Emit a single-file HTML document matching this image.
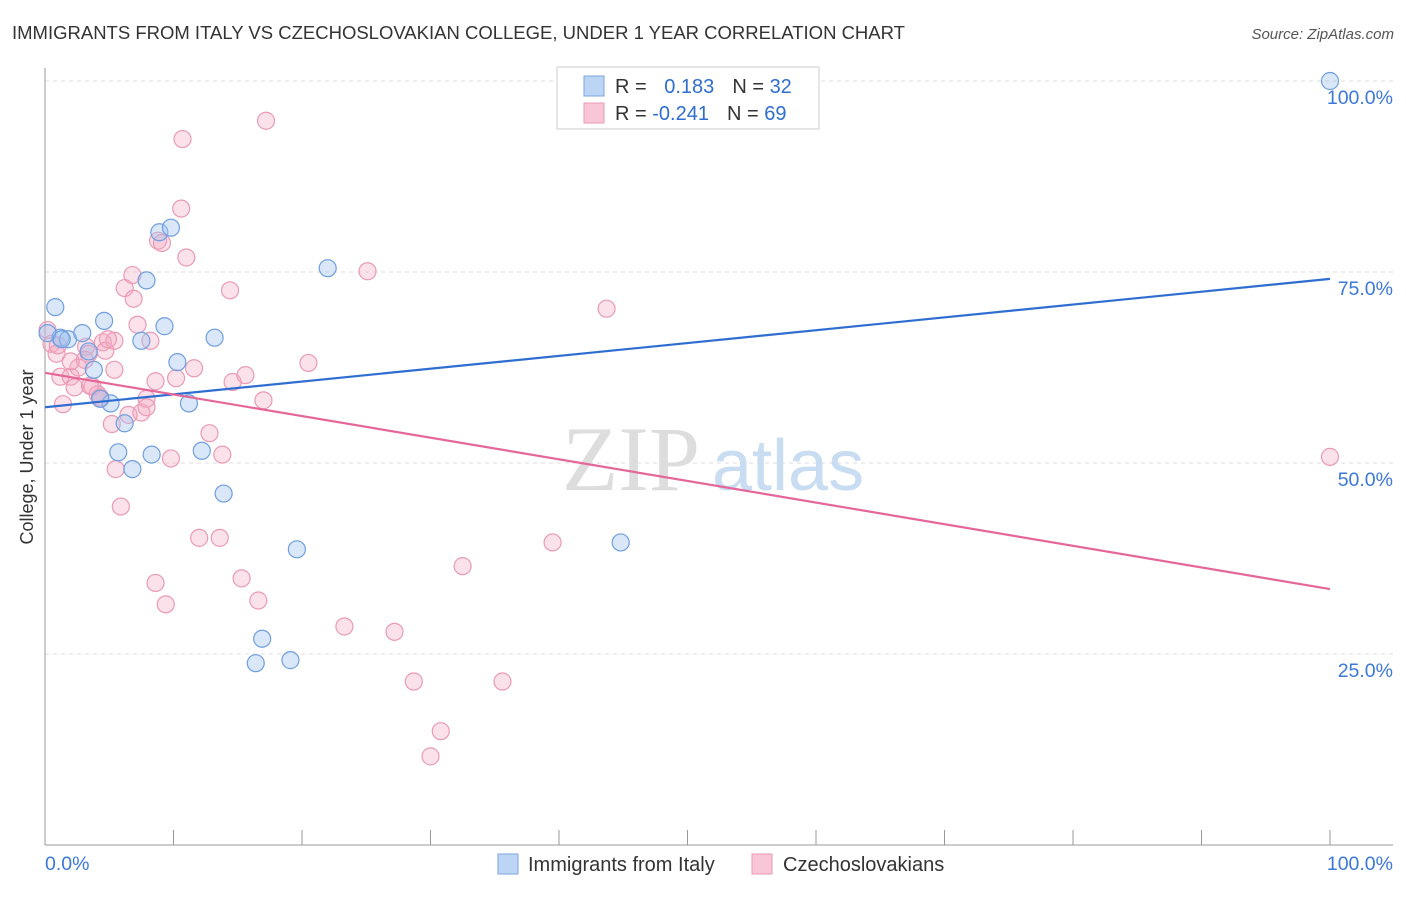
<!DOCTYPE html>
<html><head><meta charset="utf-8"><style>
body{margin:0;background:#fff;font-family:"Liberation Sans",sans-serif;}
</style></head><body>
<svg width="1406" height="892" viewBox="0 0 1406 892" xmlns="http://www.w3.org/2000/svg">
<text x="12" y="39" font-size="18.5" fill="#333">IMMIGRANTS FROM ITALY VS CZECHOSLOVAKIAN COLLEGE, UNDER 1 YEAR CORRELATION CHART</text>
<text x="1394" y="39" font-size="15" fill="#555" font-style="italic" text-anchor="end">Source: ZipAtlas.com</text>
<g id="grid"></g>
<text x="700" y="490" font-size="92" fill="#ddd" text-anchor="end" font-family="Liberation Serif">ZIP</text>
<text x="712" y="490" font-size="72" fill="#c8dcf2">atlas</text>
<g id="pts"></g>
<g id="lines"></g>
<text x="33" y="457" font-size="18" fill="#333" text-anchor="middle" transform="rotate(-90 33 457)">College, Under 1 year</text>
<g>
<rect x="557" y="67" width="262" height="62" fill="#fff" stroke="#ccc"/>
<rect x="584" y="76" width="20" height="20" fill="#bcd5f5" stroke="#7aa6e0"/>
<rect x="584" y="103" width="20" height="20" fill="#f8c6d6" stroke="#ea9ab4"/>
<text x="615" y="93" font-size="20" fill="#333">R = <tspan fill="#2f6ed0" dx="12">0.183</tspan><tspan dx="18">N = </tspan><tspan fill="#2f6ed0">32</tspan></text>
<text x="615" y="120" font-size="20" fill="#333">R = <tspan fill="#2f6ed0">-0.241</tspan><tspan dx="18">N = </tspan><tspan fill="#2f6ed0">69</tspan></text>
</g>
<g>
<rect x="498" y="854" width="20" height="20" fill="#bcd5f5" stroke="#7aa6e0"/>
<text x="528" y="871" font-size="20" fill="#333">Immigrants from Italy</text>
<rect x="752" y="854" width="20" height="20" fill="#f8c6d6" stroke="#ea9ab4"/>
<text x="783" y="871" font-size="20" fill="#333">Czechoslovakians</text>
</g>
</svg>
<script>
const blueX=[0.8,1.2,1.8,2.9,3.4,3.8,4.6,5.1,6.2,5.7,6.8,7.5,7.9,8.3,8.9,9.8,9.3,10.3,11.2,12.2,13.2,13.9,16.9,16.4,19.1,19.6,22.0,44.8,100,4.3,0.2,1.3];
const blueY=[70.4,66.4,66.2,67.0,64.6,62.2,68.6,57.8,55.2,51.4,49.2,66.0,73.9,51.1,80.2,80.8,67.9,63.2,57.8,51.6,66.4,46.0,27.0,23.8,24.2,38.7,75.5,39.6,100,58.4,67.0,66.2];
const pinkX=[0.2,0.5,0.9,1.4,1.2,2.0,2.3,2.6,3.2,3.4,3.7,4.1,4.3,4.5,4.7,5.2,5.5,5.9,5.4,6.2,6.5,6.8,6.9,7.2,7.5,7.9,8.2,8.6,8.6,8.8,9.1,9.4,9.8,10.2,10.7,10.6,11.0,11.6,12.0,12.8,13.6,13.8,14.4,14.6,15.3,15.6,16.6,17.0,17.2,20.5,23.3,25.1,27.2,28.7,30.0,30.8,32.5,35.6,39.5,43.7,100,3.5,4.3,3.1,2.0,4.9,7.9,5.4,1.0];
const pinkY=[67.4,65.6,64.3,57.7,61.3,61.3,59.9,62.5,65.2,64.3,60.0,59.0,58.6,65.8,64.7,55.1,49.2,44.3,66.0,72.9,56.3,74.6,71.5,68.1,56.6,58.4,66.0,60.7,34.3,79.1,78.8,31.5,50.6,61.1,92.4,83.3,76.9,62.4,40.2,53.9,40.2,51.1,72.6,60.6,34.9,61.5,32.0,58.2,94.8,63.1,28.6,75.1,27.9,21.4,11.6,14.9,36.5,21.4,39.6,70.2,50.8,60.1,58.4,63.5,63.3,66.2,57.3,62.2,65.4];
const blueLine=[57.3,74.1];
const pinkLine=[61.8,33.5];
const xTicks=[0,10,20,30,40,50,60,70,80,90,100];
const yTicks=[25,50,75,100];
const NS='http://www.w3.org/2000/svg';
const sx=v=>45+v*12.85, sy=v=>845-v*7.64;
function mk(t,a,p){const e=document.createElementNS(NS,t);for(const k in a)e.setAttribute(k,a[k]);p.appendChild(e);return e;}
const g=document.getElementById('grid');
yTicks.forEach(v=>{
 const l=mk('line',{x1:45,x2:1393,y1:sy(v),y2:sy(v),stroke:'#ddd','stroke-dasharray':'4,4'},g);
 
 
 const t=mk('text',{x:1393,y:sy(v)+23,'font-size':19.5,fill:'#3b78d8','text-anchor':'end'},g);t.textContent=v.toFixed(1)+'%';
 
 
});
mk('line',{x1:45,x2:45,y1:68,y2:845,stroke:'#999'},g);
mk('line',{x1:45,x2:1393,y1:845,y2:845,stroke:'#999'},g);
xTicks.forEach(v=>{const l=mk('line',{x1:sx(v),x2:sx(v),y1:830,y2:845,stroke:'#999'},g);
 
 });
[[0,'0.0%','start',45],[100,'100.0%','end',1393]].forEach(a=>{const t=mk('text',{x:a[3],y:870,'font-size':19.5,fill:'#3b78d8','text-anchor':a[2]},g);t.textContent=a[1];
 
 });
const p=document.getElementById('pts');
pinkX.forEach((x,i)=>{const c=mk('circle',{cx:sx(x),cy:sy(pinkY[i]),r:8.5,fill:'rgba(244,170,196,0.35)',stroke:'#eb9ab5','stroke-width':1.2},p);
 
 });
blueX.forEach((x,i)=>{const c=mk('circle',{cx:sx(x),cy:sy(blueY[i]),r:8.5,fill:'rgba(160,196,240,0.4)',stroke:'#6f9fe0','stroke-width':1.2},p);
 
 });
const L=document.getElementById('lines');
const b=mk('line',{x1:sx(0),y1:sy(blueLine[0]),x2:sx(100),y2:sy(blueLine[1]),stroke:'#2f6ed0','stroke-width':2.2},L);


const pl=mk('line',{x1:sx(0),y1:sy(pinkLine[0]),x2:sx(100),y2:sy(pinkLine[1]),stroke:'#e5679a','stroke-width':2.2},L);


</script>
</body></html>
